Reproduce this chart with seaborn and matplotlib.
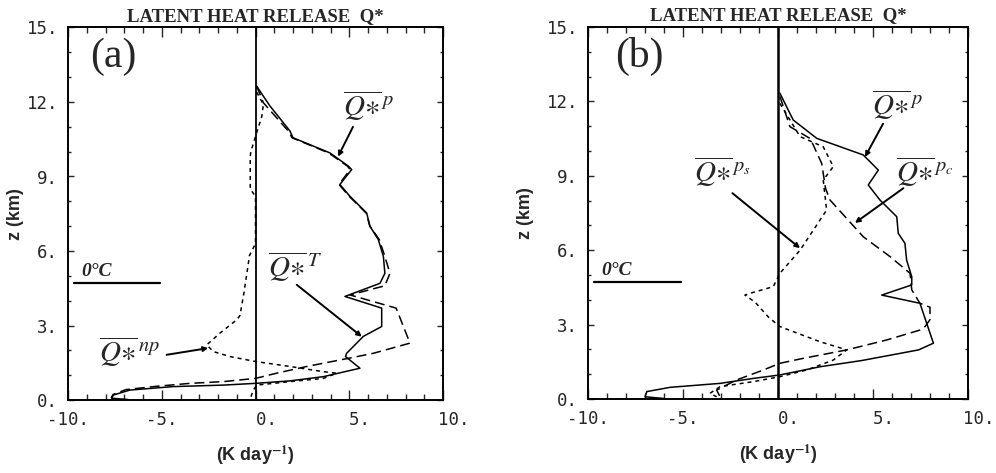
import matplotlib
matplotlib.use("Agg")
import matplotlib.pyplot as plt
import seaborn as sns
import numpy as np
import pandas as pd

# ---------------- data ----------------
# Panel (a)
za_p = [12.64, 11.84, 10.83, 10.56, 9.95, 9.42, 9.28, 8.68, 8.20, 7.53, 7.00, 6.46, 5.78, 5.10,
        4.70, 4.17, 3.70, 2.96, 2.56, 1.88, 1.75, 1.28, 0.94, 0.77, 0.67, 0.60, 0.54, 0.40, 0.20,
        0.07, 0.02]
qa_p = [0.06, 0.77, 1.84, 2.00, 3.97, 4.95, 5.13, 4.50, 5.04, 5.93, 6.10, 6.55, 6.82, 6.90,
        6.64, 4.77, 6.73, 6.73, 5.75, 4.86, 4.80, 5.57, 3.62, 1.84, 0.00, -1.72, -4.38, -6.70,
        -7.58, -7.67, -6.80]

za_t = [12.64, 11.97, 10.83, 10.56, 9.95, 9.42, 9.28, 8.68, 8.20, 7.53, 7.00, 6.46, 5.78, 5.10,
        4.60, 4.23, 3.70, 2.29, 1.88, 1.69, 1.35, 1.08, 0.87, 0.74, 0.67, 0.55, 0.42, 0.22, 0.08]
qa_t = [0.06, 0.42, 1.75, 1.95, 3.90, 4.90, 5.05, 4.45, 5.00, 5.90, 6.10, 6.60, 6.90, 7.17,
        6.90, 5.04, 7.50, 8.24, 6.28, 5.04, 2.73, 1.13, 0.00, -1.72, -3.50, -5.30, -6.90, -7.60,
        -7.70]

za_np = [12.40, 11.90, 11.40, 10.76, 10.00, 9.80, 8.50, 8.20, 6.30, 5.80, 5.40, 4.30, 3.40,
         3.23, 2.69, 2.22, 1.95, 1.75, 1.55, 1.35, 1.14, 1.08, 0.87, 0.74, 0.60, 0.35, 0.10]
qa_np = [0.06, 0.42, 0.33, 0.06, -0.25, -0.28, -0.28, 0.00, 0.00, -0.33, -0.40, -0.62, -0.83,
         -1.00, -1.90, -2.60, -2.25, -1.36, 0.00, 1.84, 3.62, 4.33, 3.62, 1.84, 0.06, -0.15, -0.25]

# Panel (b)
zb_p = [12.33, 11.25, 10.51, 9.84, 9.23, 8.63, 8.02, 7.35, 6.68, 6.28, 5.60, 4.93, 4.60, 4.19,
        3.86, 2.25, 1.98, 1.55, 1.30, 0.97, 0.83, 0.63, 0.47, 0.30, 0.09, 0.02]
qb_p = [0.10, 0.80, 2.04, 4.49, 5.28, 4.75, 5.37, 6.25, 6.33, 6.68, 6.77, 7.04, 7.04, 5.46,
        7.47, 8.18, 7.40, 4.40, 2.21, 0.10, -1.30, -3.05, -5.68, -6.90, -7.00, -6.00]

zb_pc = [12.20, 10.98, 10.50, 9.50, 8.50, 8.02, 6.54, 5.74, 5.07, 4.40, 3.86, 3.70, 3.20, 2.92,
         2.78, 2.38, 1.98, 1.64, 1.44, 1.17, 0.77, 0.36, 0.09]
qb_pc = [0.10, 0.63, 1.70, 2.30, 2.50, 2.74, 4.49, 5.90, 6.95, 7.04, 7.47, 8.00, 8.00, 7.74,
         7.47, 5.72, 3.62, 1.33, 0.10, -0.77, -2.17, -3.23, -3.05]

zb_ps = [11.92, 10.58, 10.17, 9.37, 8.83, 7.62, 6.00, 5.07, 4.53, 4.30, 4.19, 3.90, 3.30, 2.92,
         2.31, 1.98, 1.57, 1.17, 0.90, 0.70, 0.50, 0.23, 0.09]
qb_ps = [0.10, 1.16, 2.38, 2.91, 2.38, 2.56, 1.16, 0.10, -0.25, -1.30, -1.74, -1.20, -0.50, 0.10,
         2.21, 3.62, 2.91, 1.51, 0.10, -1.30, -3.05, -3.58, -3.23]

freezing_level = 4.72
xticks = [-10, -5, 0, 5, 10]
xticklabels = ["-10.", "-5.", "  0.", "  5.", "  10."]
yticks = [0, 3, 6, 9, 12, 15]
yticklabels = ["0.", "3.", "6.", "9.", "12.", "15."]
title = "LATENT HEAT RELEASE  Q*"

# ---------------- styling ----------------
sns.set_style("white")
plt.rcParams["font.family"] = ["DejaVu Sans"]
plt.rcParams["mathtext.fontset"] = "stix"

fig = plt.figure(figsize=(9.96, 4.73), dpi=100)
axa = fig.add_axes([68 / 996, 1 - 400 / 473, 375 / 996, 372.5 / 473])
axb = fig.add_axes([588 / 996, 1 - 399 / 473, 380 / 996, 372 / 473])

LW = 1.1
short = (0, (2.6, 2.6))
long_ = (0, (6.5, 3.3))


def draw(ax, x, z, ls):
    df = pd.DataFrame({"q": x, "z": z})
    sns.lineplot(data=df, x="q", y="z", sort=False, estimator=None, ax=ax,
                 color="black", lw=LW, linestyle=ls)


def style_axes(ax, zero_lw, ylab_x):
    ax.set_xlim(-10, 10)
    ax.set_ylim(0, 15)
    ax.axvline(0, color="black", lw=zero_lw, zorder=3)
    for s in ax.spines.values():
        s.set_visible(True)
        s.set_linewidth(1.4)
        s.set_color("black")
    ax.set_xticks(xticks)
    ax.set_xticklabels(xticklabels, family="DejaVu Sans Mono", fontsize=12.5)
    ax.set_xticks(np.arange(-10, 11, 1), minor=True)
    ax.set_yticks(yticks)
    ax.set_yticklabels(yticklabels, family="DejaVu Sans Mono", fontsize=12.5)
    ax.set_yticks(np.arange(0, 16, 1), minor=True)
    ax.tick_params(axis="x", which="major", direction="in", length=7, width=1,
                   top=True, bottom=True, pad=8)
    ax.tick_params(axis="x", which="minor", direction="in", length=4, width=1,
                   top=True, bottom=True)
    ax.tick_params(axis="y", which="major", direction="in", length=4, width=1,
                   left=True, right=True, pad=7)
    ax.tick_params(axis="y", which="minor", direction="in", length=2.5, width=1,
                   left=True, right=True)
    ax.set_xlabel("(K day$^{\\mathbf{-1}}$)", fontsize=13, fontweight="bold",
                  family="Liberation Sans", labelpad=10)
    ax.set_ylabel("z (km)", fontsize=13, fontweight="bold", family="Liberation Sans")
    ax.yaxis.set_label_coords(ylab_x, 0.5)
    ax.set_title(title, fontsize=13.5, fontweight="bold", family="Liberation Serif", pad=5)
    # freezing level
    ax.plot([-9.7, -5.1], [freezing_level, freezing_level], color="black", lw=1.6)
    ax.text(-9.3, freezing_level + 0.1, "0°C", family="Liberation Serif", style="italic",
            fontweight="bold", fontsize=14, ha="left", va="bottom")


def label(ax, text, xy, start, end, head=True):
    ax.text(xy[0], xy[1], text, fontsize=21, ha="center", va="center")
    ax.annotate("", xy=end, xytext=start,
                arrowprops=dict(arrowstyle="-|>" if head else "-", color="black",
                                lw=1.4, mutation_scale=7, shrinkA=0, shrinkB=0))


# panel (a)
draw(axa, qa_p, za_p, "-")
draw(axa, qa_t, za_t, long_)
draw(axa, qa_np, za_np, short)
style_axes(axa, 1.3, -0.117)
axa.text(-7.6, 13.84, "(a)", family="Liberation Serif", fontsize=30, ha="center", va="center")
label(axa, r"$\overline{Q{\ast}}^{\,p}$", (6.0, 11.85), (5.2, 11.0), (4.4, 9.8))
label(axa, r"$\overline{Q{\ast}}^{\,T}$", (2.1, 5.35), (2.2, 4.64), (5.67, 2.55))
label(axa, r"$\overline{Q{\ast}}^{\,np}$", (-6.7, 1.95), (-4.74, 1.82), (-2.52, 2.09))

# panel (b)
draw(axb, qb_p, zb_p, "-")
draw(axb, qb_pc, zb_pc, long_)
draw(axb, qb_ps, zb_ps, short)
style_axes(axb, 1.8, -0.142)
axb.text(-7.3, 13.83, "(b)", family="Liberation Serif", fontsize=30, ha="center", va="center")
label(axb, r"$\overline{Q{\ast}}^{\,p}$", (6.26, 11.88), (5.53, 11.1), (4.58, 9.76))
label(axb, r"$\overline{Q{\ast}}^{\,p_c}$", (7.74, 9.18), (6.6, 8.5), (4.05, 7.1))
label(axb, r"$\overline{Q{\ast}}^{\,p_s}$", (-2.95, 9.18), (-2.4, 8.3), (1.16, 6.08))

fig.savefig("out.png", dpi=100)
